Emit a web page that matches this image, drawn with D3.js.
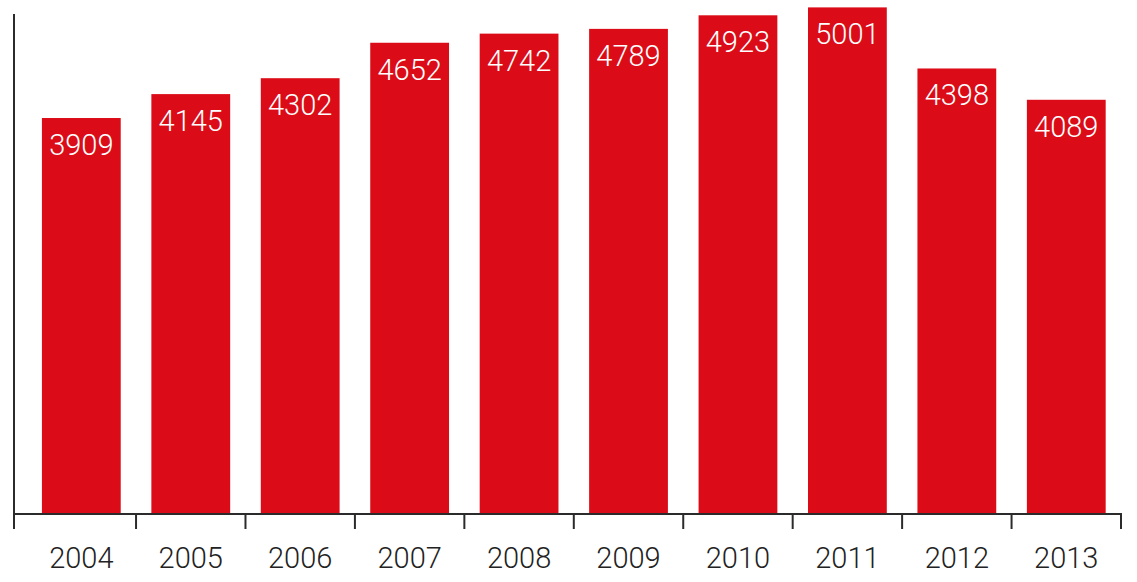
<!DOCTYPE html>
<html><head><meta charset="utf-8">
<script src="https://cdn.jsdelivr.net/npm/d3@7"></script>
<style>body{margin:0;background:#fff}</style>
</head><body>
<svg id="c" width="1137" height="582"></svg>
<script>
const years = ["2004","2005","2006","2007","2008","2009","2010","2011","2012","2013"];
const values = [3909,4145,4302,4652,4742,4789,4923,5001,4398,4089];

const svg = d3.select("#c");
const baseY = 514, axisX = 14;
const x = d3.scaleBand().domain(years).range([26.6, 1121]).paddingInner(0.28).paddingOuter(0.14);
const y = d3.scaleLinear().domain([0, 5074]).range([baseY, 0]);

svg.append("g").selectAll("rect").data(values).join("rect")
  .attr("x", (d,i) => x(years[i]))
  .attr("width", x.bandwidth())
  .attr("y", d => y(d))
  .attr("height", d => baseY - y(d))
  .attr("fill", "#db0c17");

svg.append("g").selectAll("text").data(values).join("text")
  .attr("x", (d,i) => x(years[i]) + x.bandwidth()/2)
  .attr("y", d => y(d) + 37)
  .attr("text-anchor", "middle")
  .attr("fill", "#fff")
  .style("font-family", "Roboto")
  .style("font-weight", "300")
  .style("font-size", "29px")
  .text(d => d);

// x axis
const xa = svg.append("g");
xa.append("line").attr("x1", axisX).attr("x2", 1122).attr("y1", baseY).attr("y2", baseY)
  .attr("stroke", "#2b2b2b").attr("stroke-width", 2);
const tickXs = [axisX].concat(years.map(yr => x(yr) + x.bandwidth()/2 + x.step()/2));
xa.selectAll("line.t").data(tickXs).join("line").attr("class","t")
  .attr("x1", d => d).attr("x2", d => d).attr("y1", baseY).attr("y2", 529)
  .attr("stroke", "#2b2b2b").attr("stroke-width", 2);
xa.selectAll("text").data(years).join("text")
  .attr("x", d => x(d) + x.bandwidth()/2)
  .attr("y", 568)
  .attr("text-anchor", "middle")
  .attr("fill", "#222")
  .style("font-family", "Roboto")
  .style("font-weight", "300")
  .style("font-size", "29px")
  .text(d => d);

// y axis
svg.append("line").attr("x1", axisX).attr("x2", axisX).attr("y1", 14).attr("y2", baseY)
  .attr("stroke", "#2b2b2b").attr("stroke-width", 2);
</script>
</body></html>
